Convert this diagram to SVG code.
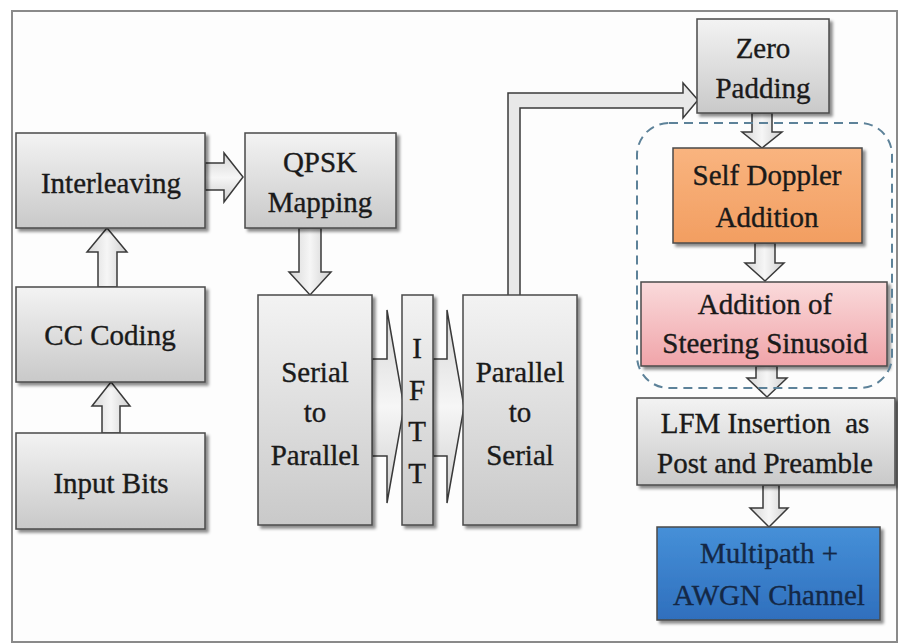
<svg xmlns="http://www.w3.org/2000/svg" width="898" height="644" viewBox="0 0 898 644">
<defs>
<linearGradient id="gGray" x1="0" y1="0" x2="0" y2="1">
<stop offset="0" stop-color="#f3f3f3"/><stop offset="1" stop-color="#c9c9c9"/>
</linearGradient>
<linearGradient id="gOrange" x1="0" y1="0" x2="0" y2="1">
<stop offset="0" stop-color="#f9b47f"/><stop offset="1" stop-color="#f29e61"/>
</linearGradient>
<linearGradient id="gPink" x1="0" y1="0" x2="0" y2="1">
<stop offset="0" stop-color="#fadadb"/><stop offset="1" stop-color="#f0a4a9"/>
</linearGradient>
<linearGradient id="gBlue" x1="0" y1="0" x2="0" y2="1">
<stop offset="0" stop-color="#4690d8"/><stop offset="1" stop-color="#2f6fbd"/>
</linearGradient>
<linearGradient id="gArrowV" x1="0" y1="0" x2="1" y2="0">
<stop offset="0" stop-color="#d6d6d6"/><stop offset="0.5" stop-color="#f6f6f6"/><stop offset="1" stop-color="#cfcfcf"/>
</linearGradient>
<linearGradient id="gArrowH" x1="0" y1="0" x2="0" y2="1">
<stop offset="0" stop-color="#d6d6d6"/><stop offset="0.5" stop-color="#f6f6f6"/><stop offset="1" stop-color="#cfcfcf"/>
</linearGradient>
<filter id="sh" x="-10%" y="-10%" width="130%" height="130%">
<feDropShadow dx="3" dy="3" stdDeviation="1.5" flood-color="#000" flood-opacity="0.45"/>
</filter>
</defs>
<style>
.box{stroke:#4a4a4a;stroke-width:1.5;filter:url(#sh)}
.gray{fill:url(#gGray)}
.arr{stroke:#3a3a3a;stroke-width:1.5;stroke-linejoin:miter}
.av{fill:url(#gArrowV)}
.ah{fill:url(#gArrowH)}
.t{font-size:29px;fill:#1a1a1a;stroke:#1a1a1a;stroke-width:0.35;text-anchor:middle}
.navy{fill:#142846;stroke:#142846}
</style>
<rect x="0" y="0" width="898" height="644" fill="#ffffff"/>
<rect x="12" y="11" width="885" height="631" fill="#fdfdfd" stroke="#8a8a8a" stroke-width="2"/>

<g id="connectors">
<polygon class="arr ah" points="205,163 224,163 224,153 243,177 224,202 224,190 205,190"/>
<polygon class="arr av" points="98,287 98,252 87,252 107,228 127,252 117,252 117,287"/>
<polygon class="arr av" points="102,433 102,406 92,406 111,382 130,406 120,406 120,433"/>
<polygon class="arr av" points="299,228 299,272 289,272 310,295 331,272 321,272 321,228"/>
<polygon class="arr ah" points="372,359 387,359 387,310 404,407 387,503 387,456 372,456"/>
<polygon class="arr ah" points="433,359 447,359 447,310 464,407 447,503 447,456 433,456"/>
<polygon class="arr" fill="#e8e8e8" points="508,296 508,93 683,93 683,83 698,100 683,118 683,108 520,108 520,296"/>
<polygon class="arr av" points="752,113 752,132 742,132 762,148 782,132 772,132 772,113"/>
<polygon class="arr av" points="755,243 755,263 745,263 765,281 784,263 775,263 775,243"/>
<polygon class="arr av" points="756,366 756,378 747,378 767,397 787,378 777,378 777,366"/>
<polygon class="arr av" points="763,485 763,508 750,508 769,527 788,508 779,508 779,485"/>
</g>

<g font-family="Liberation Serif, DejaVu Serif, serif">
<g id="n-interleaving"><rect class="box gray" x="16" y="133" width="189" height="95"/><text class="t" x="111" y="193">Interleaving</text></g>
<g id="n-qpsk"><rect class="box gray" x="245" y="133" width="151" height="95"/><text class="t" x="320" y="172">QPSK</text><text class="t" x="320" y="212">Mapping</text></g>
<g id="n-cc"><rect class="box gray" x="16" y="287" width="189" height="95"/><text class="t" x="110" y="345">CC Coding</text></g>
<g id="n-input"><rect class="box gray" x="16" y="433" width="189" height="96"/><text class="t" x="111" y="493">Input Bits</text></g>
<g id="n-s2p"><rect class="box gray" x="258" y="295" width="114" height="230"/><text class="t" x="315" y="382">Serial</text><text class="t" x="315" y="422">to</text><text class="t" x="315" y="465">Parallel</text></g>
<g id="n-iftt"><rect class="box gray" x="402" y="295" width="31" height="230"/><text class="t" x="417" y="358">I</text><text class="t" x="417" y="400">F</text><text class="t" x="417" y="441">T</text><text class="t" x="417" y="483">T</text></g>
<g id="n-p2s"><rect class="box gray" x="463" y="295" width="114" height="230"/><text class="t" x="520" y="382">Parallel</text><text class="t" x="520" y="422">to</text><text class="t" x="520" y="465">Serial</text></g>
<g id="n-zero"><rect class="box gray" x="697" y="19" width="132" height="94"/><text class="t" x="763" y="58">Zero</text><text class="t" x="763" y="98">Padding</text></g>
<g id="n-doppler"><rect class="box" fill="url(#gOrange)" x="673" y="148" width="189" height="95"/><text class="t" x="767" y="185">Self Doppler</text><text class="t" x="767" y="227">Addition</text></g>
<g id="n-steering"><rect class="box" fill="url(#gPink)" x="641" y="282" width="246" height="84"/><text class="t" x="765" y="314">Addition of</text><text class="t" x="765" y="353">Steering Sinusoid</text></g>
<g id="n-lfm"><rect class="box gray" x="637" y="398" width="258" height="87"/><text class="t" x="765" y="433" xml:space="preserve">LFM Insertion  as</text><text class="t" x="765" y="473">Post and Preamble</text></g>
<g id="n-channel"><rect class="box" fill="url(#gBlue)" x="657" y="527" width="223" height="93" stroke="#24466e"/><text class="t navy" x="769" y="563">Multipath +</text><text class="t navy" x="769" y="605">AWGN Channel</text></g>
</g>

<g id="group-dashed"><rect x="637" y="123" width="255" height="265" rx="32" fill="none" stroke="#5d8299" stroke-width="2" stroke-dasharray="9 6"/></g>
</svg>
